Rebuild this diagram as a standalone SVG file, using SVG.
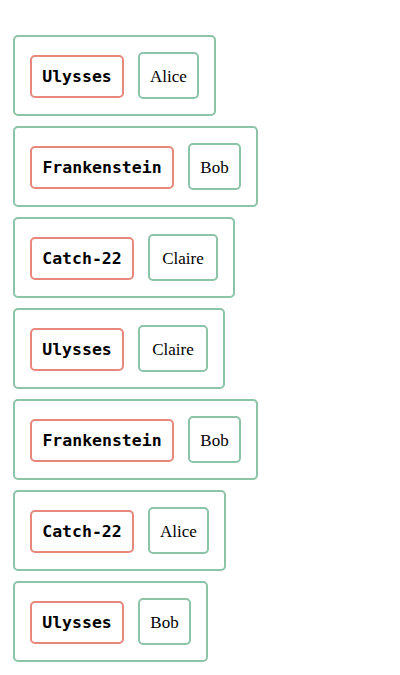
<svg xmlns="http://www.w3.org/2000/svg" width="400" height="675" viewBox="0 0 400 675">
<style>
.outer{fill:#fff;stroke:#8cc3a9;stroke-width:2}
.book{fill:#fff;stroke:#e8887c;stroke-width:2}
.person{fill:#fff;stroke:#8cc3a9;stroke-width:2}
.bt{font-family:"DejaVu Sans Mono",monospace;font-weight:bold;font-size:16.5px;fill:#000;text-anchor:middle;dominant-baseline:central}
.pt{font-family:"Liberation Serif",serif;font-size:17px;fill:#000;text-anchor:middle;dominant-baseline:central}
</style>
<rect width="400" height="675" fill="#fff"/>
<g id="row1" transform="translate(0,0)">
<rect class="outer" x="14" y="36" width="201" height="79" rx="4"/>
<g id="book1"><rect class="book" x="31" y="56" width="92" height="41" rx="4"/><text class="bt" x="77" y="76.5">Ulysses</text></g>
<g id="person1"><rect class="person" x="139" y="53" width="59" height="45" rx="4"/><text class="pt" x="168.5" y="76">Alice</text></g>
</g>
<g id="row2" transform="translate(0,91)">
<rect class="outer" x="14" y="36" width="243" height="79" rx="4"/>
<g id="book2"><rect class="book" x="31" y="56" width="142" height="41" rx="4"/><text class="bt" x="102" y="76.5">Frankenstein</text></g>
<g id="person2"><rect class="person" x="189" y="53" width="51" height="45" rx="4"/><text class="pt" x="214.5" y="76">Bob</text></g>
</g>
<g id="row3" transform="translate(0,182)">
<rect class="outer" x="14" y="36" width="220" height="79" rx="4"/>
<g id="book3"><rect class="book" x="31" y="56" width="102" height="41" rx="4"/><text class="bt" x="82" y="76.5">Catch-22</text></g>
<g id="person3"><rect class="person" x="149" y="53" width="68" height="45" rx="4"/><text class="pt" x="183" y="76">Claire</text></g>
</g>
<g id="row4" transform="translate(0,273)">
<rect class="outer" x="14" y="36" width="210" height="79" rx="4"/>
<g id="book4"><rect class="book" x="31" y="56" width="92" height="41" rx="4"/><text class="bt" x="77" y="76.5">Ulysses</text></g>
<g id="person4"><rect class="person" x="139" y="53" width="68" height="45" rx="4"/><text class="pt" x="173" y="76">Claire</text></g>
</g>
<g id="row5" transform="translate(0,364)">
<rect class="outer" x="14" y="36" width="243" height="79" rx="4"/>
<g id="book5"><rect class="book" x="31" y="56" width="142" height="41" rx="4"/><text class="bt" x="102" y="76.5">Frankenstein</text></g>
<g id="person5"><rect class="person" x="189" y="53" width="51" height="45" rx="4"/><text class="pt" x="214.5" y="76">Bob</text></g>
</g>
<g id="row6" transform="translate(0,455)">
<rect class="outer" x="14" y="36" width="211" height="79" rx="4"/>
<g id="book6"><rect class="book" x="31" y="56" width="102" height="41" rx="4"/><text class="bt" x="82" y="76.5">Catch-22</text></g>
<g id="person6"><rect class="person" x="149" y="53" width="59" height="45" rx="4"/><text class="pt" x="178.5" y="76">Alice</text></g>
</g>
<g id="row7" transform="translate(0,546)">
<rect class="outer" x="14" y="36" width="193" height="79" rx="4"/>
<g id="book7"><rect class="book" x="31" y="56" width="92" height="41" rx="4"/><text class="bt" x="77" y="76.5">Ulysses</text></g>
<g id="person7"><rect class="person" x="139" y="53" width="51" height="45" rx="4"/><text class="pt" x="164.5" y="76">Bob</text></g>
</g>
</svg>
